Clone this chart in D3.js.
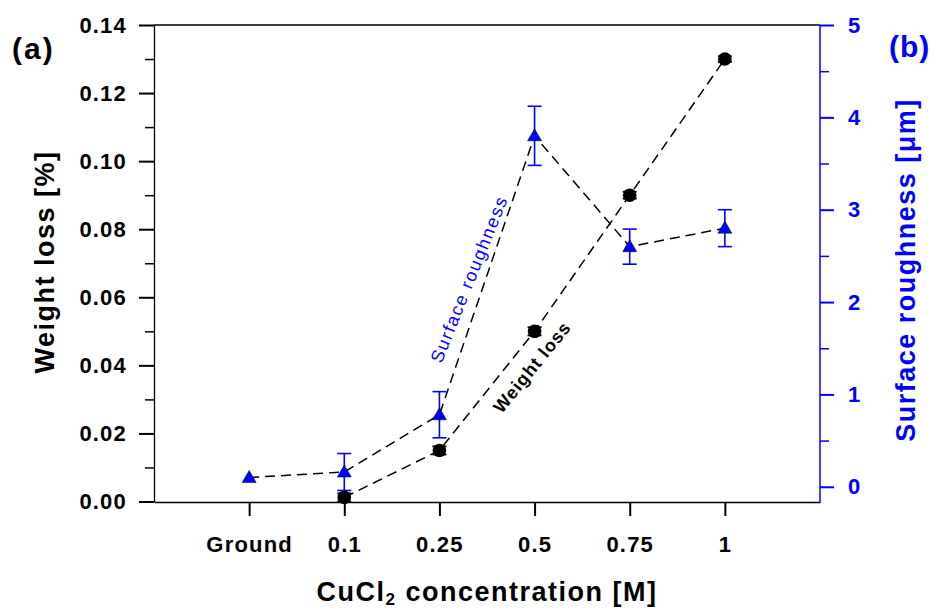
<!DOCTYPE html>
<html>
<head>
<meta charset="utf-8">
<script src="https://cdn.jsdelivr.net/npm/d3@7"></script>
<style>
  body { margin: 0; background: #fff; }
  text { font-family: "Liberation Sans", Arial, sans-serif; }
</style>
</head>
<body>
<div class="vis-holder"></div>
<script>
// categories along the x axis
var categories = ["Ground", "0.1", "0.25", "0.5", "0.75", "1"];

// weight loss [%] (no value for Ground)
var weightCats = ["0.1", "0.25", "0.5", "0.75", "1"];
var weightLoss = [0.0012, 0.015, 0.050, 0.090, 0.130];
var weightErr = [0.0012, 0.0012, 0.0012, 0.001, 0.0008];

// surface roughness [um]
var roughCats = ["Ground", "0.1", "0.25", "0.5", "0.75", "1"];
var roughness = [0.1, 0.16, 0.78, 3.8, 2.6, 2.8];
var roughErr = [0, 0.2, 0.25, 0.32, 0.19, 0.2];

var leftTicks = [0, 0.02, 0.04, 0.06, 0.08, 0.10, 0.12, 0.14];
var rightTicks = [0, 1, 2, 3, 4, 5];

var blue = "#0000ff";

var width = 936;
var height = 612;
var margin = { top: 25, bottom: 110, left: 154, right: 116 };

var svg = d3.select(".vis-holder")
      .append("svg")
      .attr("width", width)
      .attr("height", height);

var x0 = margin.left, x1 = width - margin.right;
var y0 = height - margin.bottom, y1 = margin.top;

// index scale: 0 and 7 are the empty ends of the axis
var xScale = d3.scaleLinear().domain([0, 7]).range([x0, x1]);
function xPos(c) { return xScale(categories.indexOf(c) + 1); }

var yLeft = d3.scaleLinear().domain([0, 0.14]).range([y0 - 0.5, y1]);
var yRight = d3.scaleLinear().domain([-0.165, 5]).range([y0, y1]);

function tickText(sel, color) {
  sel.selectAll("text")
    .attr("font-size", 22).attr("font-weight", "bold").attr("fill", color)
    .attr("letter-spacing", 1.2)
    .style("font-family", "Liberation Sans, Arial, sans-serif");
}

// top frame line
svg.append("line")
  .attr("x1", x0).attr("x2", x1)
  .attr("y1", y1).attr("y2", y1)
  .attr("stroke", "#000").attr("stroke-width", 1.3);

// x axis
var xAxis = d3.axisBottom(xScale)
  .tickValues(d3.range(1, categories.length + 1))
  .tickFormat(function(d) { return categories[d - 1]; })
  .tickSizeInner(14).tickSizeOuter(0).tickPadding(20);
var gx = svg.append("g")
  .attr("transform", "translate(0," + y0 + ")")
  .call(xAxis);
tickText(gx, "#000");
gx.selectAll("line").attr("stroke-width", 2);
gx.select(".domain").attr("stroke-width", 1.3);

// left axis (minor ticks)
svg.append("g")
  .attr("transform", "translate(" + x0 + ",0)")
  .call(d3.axisLeft(yLeft).tickValues(d3.range(0.01, 0.14, 0.02)).tickSize(9).tickFormat(""))
  .call(function(g) { g.select(".domain").remove(); g.selectAll("line").attr("stroke-width", 1.5); });
var gl = svg.append("g")
  .attr("transform", "translate(" + x0 + ",0)")
  .call(d3.axisLeft(yLeft).tickValues(leftTicks).tickFormat(d3.format(".2f"))
        .tickSizeInner(15).tickSizeOuter(0).tickPadding(12));
tickText(gl, "#000");
gl.selectAll("line").attr("stroke-width", 2);
gl.select(".domain").attr("stroke-width", 1.3);

// right axis (blue)
svg.append("g")
  .attr("transform", "translate(" + x1 + ",0)")
  .call(d3.axisRight(yRight).tickValues([0.5, 1.5, 2.5, 3.5, 4.5]).tickSize(9).tickFormat(""))
  .call(function(g) { g.select(".domain").remove(); g.selectAll("line").attr("stroke", blue).attr("stroke-width", 1.5); });
var gr = svg.append("g")
  .attr("transform", "translate(" + x1 + ",0)")
  .call(d3.axisRight(yRight).tickValues(rightTicks).tickFormat(d3.format("d"))
        .tickSizeInner(14).tickSizeOuter(0).tickPadding(14));
tickText(gr, blue);
gr.selectAll("line").attr("stroke", blue).attr("stroke-width", 2);
gr.select(".domain").attr("stroke", blue).attr("stroke-width", 1.5)
  .attr("d", "M0," + y1 + "V" + y0);

// dashed lines
var wData = weightCats.map(function(c, i) { return { c: c, v: weightLoss[i], e: weightErr[i] }; });
var rData = roughCats.map(function(c, i) { return { c: c, v: roughness[i], e: roughErr[i] }; });

var wLine = d3.line().x(function(d) { return xPos(d.c); }).y(function(d) { return yLeft(d.v); });
var rLine = d3.line().x(function(d) { return xPos(d.c); }).y(function(d) { return yRight(d.v); });

svg.append("path").attr("d", rLine(rData)).attr("fill", "none")
  .attr("stroke", "#000").attr("stroke-width", 1.5).attr("stroke-dasharray", "10,6");
svg.append("path").attr("d", wLine(wData)).attr("fill", "none")
  .attr("stroke", "#000").attr("stroke-width", 1.5).attr("stroke-dasharray", "10,6");

// roughness error bars
var rErr = svg.append("g").selectAll("g").data(rData.filter(function(d) { return d.e > 0; }))
  .enter().append("g").attr("stroke", blue).attr("stroke-width", 1.6);
rErr.append("line")
  .attr("x1", function(d) { return xPos(d.c); }).attr("x2", function(d) { return xPos(d.c); })
  .attr("y1", function(d) { return yRight(d.v - d.e); }).attr("y2", function(d) { return yRight(d.v + d.e); });
[-1, 1].forEach(function(s) {
  rErr.append("line")
    .attr("x1", function(d) { return xPos(d.c) - 7; }).attr("x2", function(d) { return xPos(d.c) + 7; })
    .attr("y1", function(d) { return yRight(d.v + s * d.e); }).attr("y2", function(d) { return yRight(d.v + s * d.e); });
});

// weight error bars
var wErr = svg.append("g").selectAll("g").data(wData)
  .enter().append("g").attr("stroke", "#000").attr("stroke-width", 1.8);
[-1, 1].forEach(function(s) {
  wErr.append("line")
    .attr("x1", function(d) { return xPos(d.c) - 7; }).attr("x2", function(d) { return xPos(d.c) + 7; })
    .attr("y1", function(d) { return yLeft(d.v + s * d.e); }).attr("y2", function(d) { return yLeft(d.v + s * d.e); });
});

// markers
svg.append("g").selectAll("circle").data(wData).enter().append("circle")
  .attr("cx", function(d) { return xPos(d.c); })
  .attr("cy", function(d) { return yLeft(d.v); })
  .attr("r", 6.8).attr("fill", "#000");

var tri = d3.symbol().type(d3.symbolTriangle).size(85);
svg.append("g").selectAll("path").data(rData).enter().append("path")
  .attr("d", tri)
  .attr("transform", function(d) { return "translate(" + xPos(d.c) + "," + (yRight(d.v) + 1) + ")"; })
  .attr("fill", blue).attr("stroke", "#000").attr("stroke-width", 0.5);

// inline series labels
svg.append("text")
  .attr("transform", "translate(469,279) rotate(-68)")
  .attr("text-anchor", "middle").attr("dy", "0.35em")
  .attr("font-size", 18).attr("letter-spacing", 1.6).attr("fill", blue)
  .text("Surface roughness");
svg.append("text")
  .attr("transform", "translate(532,367) rotate(-51)")
  .attr("text-anchor", "middle").attr("dy", "0.35em")
  .attr("font-size", 18).attr("font-weight", "bold").attr("letter-spacing", 1).attr("fill", "#000")
  .text("Weight loss");

// axis titles
svg.append("text")
  .attr("transform", "translate(45,262) rotate(-90)")
  .attr("text-anchor", "middle").attr("dy", "0.35em")
  .attr("font-size", 27).attr("font-weight", "bold").attr("letter-spacing", 1.5)
  .text("Weight loss [%]");

svg.append("text")
  .attr("transform", "translate(906,270) rotate(-90)")
  .attr("text-anchor", "middle").attr("dy", "0.35em")
  .attr("font-size", 27).attr("font-weight", "bold").attr("letter-spacing", 1.5).attr("fill", blue)
  .text("Surface roughness [\u03bcm]");

var xt = svg.append("text")
  .attr("x", 487).attr("y", 601)
  .attr("text-anchor", "middle")
  .attr("font-size", 27).attr("font-weight", "bold").attr("letter-spacing", 1.5);
xt.append("tspan").text("CuCl");
xt.append("tspan").attr("font-size", 17).attr("dy", 4).text("2");
xt.append("tspan").attr("dy", -4).text(" concentration [M]");

// panel letters
svg.append("text").attr("x", 12).attr("y", 59)
  .attr("font-size", 30).attr("font-weight", "bold").attr("letter-spacing", 2).text("(a)");
svg.append("text").attr("x", 889).attr("y", 57)
  .attr("font-size", 30).attr("font-weight", "bold").attr("letter-spacing", 1).attr("fill", blue).text("(b)");
</script>
</body>
</html>
